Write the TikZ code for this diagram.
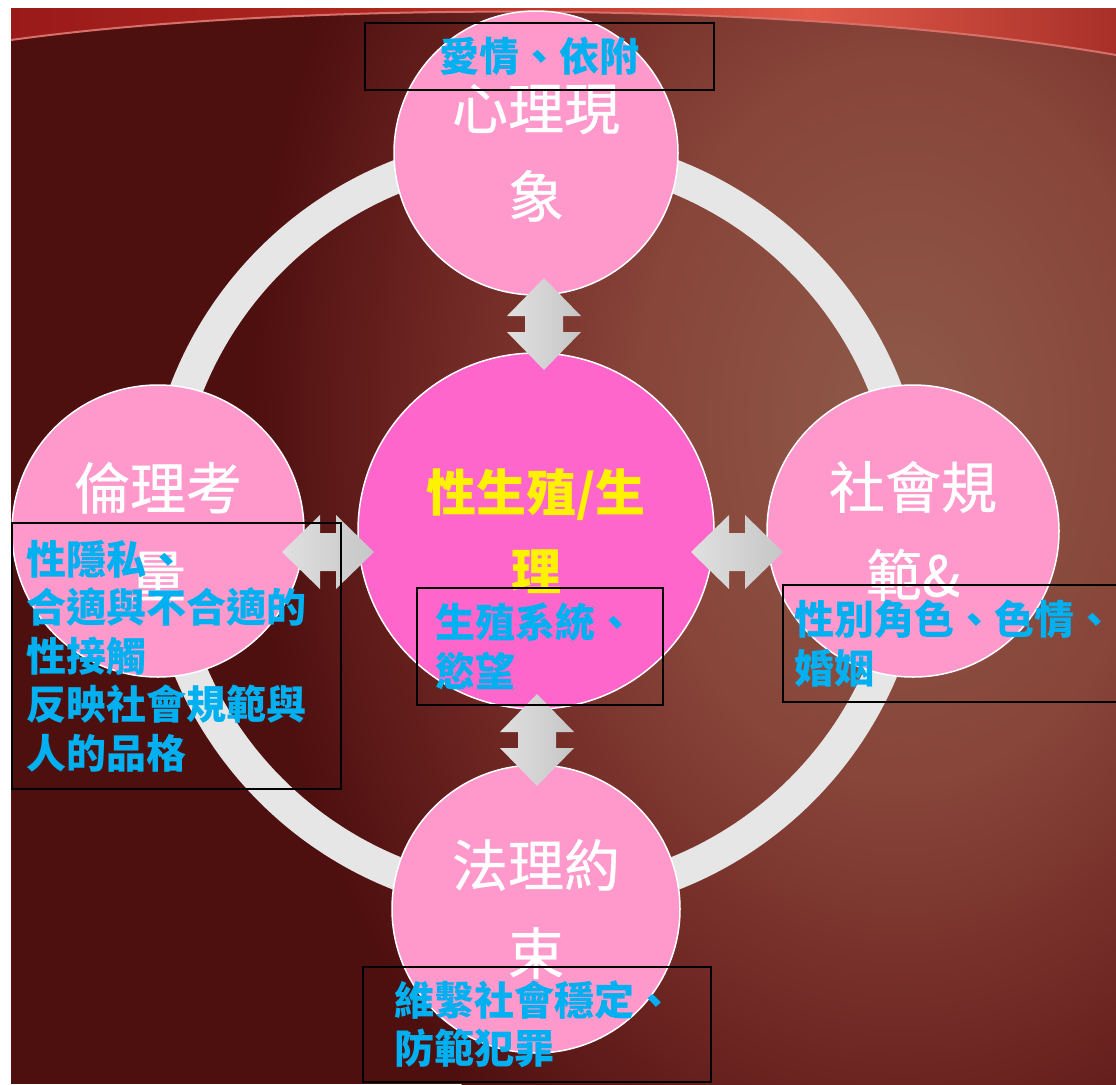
\documentclass[tikz,border=0pt]{standalone}
\usepackage{fontspec}
\newfontfamily\cjk{Noto Sans CJK TC}
\newfontfamily\cjkw[FakeBold=0.6]{Noto Sans CJK TC}
\definecolor{bgdark}{HTML}{4E0F0F}
\definecolor{glowA}{HTML}{8E5A4A}
\definecolor{glowB}{HTML}{88453A}
\definecolor{glowC}{HTML}{6E2622}
\definecolor{bandL}{HTML}{9A1A1A}
\definecolor{bandLL}{HTML}{B0281F}
\definecolor{bandM}{HTML}{E25A4A}
\definecolor{bandR}{HTML}{A83028}
\definecolor{bandline}{HTML}{D8706A}
\definecolor{pinkc}{HTML}{FF99CC}
\definecolor{corepink}{HTML}{FF66CC}
\definecolor{ringgray}{HTML}{E6E6E6}
\definecolor{arrowlight}{HTML}{E0E0E0}
\definecolor{arrowdark}{HTML}{C6C6C6}
\definecolor{txtblue}{HTML}{00B0F0}
\pgfdeclareradialshading{bgglow}{\pgfpoint{0bp}{0bp}}{color(0bp)=(glowA); color(10bp)=(glowB); color(18bp)=(glowC); color(25bp)=(bgdark); color(50bp)=(bgdark)}
\pgfdeclarehorizontalshading{bandshade}{100bp}{color(0bp)=(bandL); color(25bp)=(bandL); color(43bp)=(bandLL); color(61bp)=(bandM); color(75bp)=(bandR); color(100bp)=(bandR)}
\tikzset{
  satel/.style={circle, fill=pinkc, draw=white, line width=1.5pt, inner sep=0pt, text=white, align=center, font=\cjkw\fontsize{56}{88}\selectfont},
  corec/.style={circle, fill=corepink, draw=white, line width=1.5pt, inner sep=0pt, text=yellow, align=center, font=\cjk\bfseries\fontsize{50}{79}\selectfont},
  tbox/.style={draw=black, line width=1.6pt, inner ysep=0pt, text=txtblue, font=\cjk\bfseries\fontsize{40}{48.5}\selectfont},
  ringstyle/.style={draw=ringgray, line width=33pt},
  dblarrow/.pic={\shade[left color=arrowlight, right color=arrowdark] (0,-46) -- (37,-8) -- (19,-8) -- (19,8) -- (37,8) -- (0,46) -- (-37,8) -- (-19,8) -- (-19,-8) -- (-37,-8) -- cycle;}
}
\begin{document}
\begin{tikzpicture}[x=1pt,y=-1pt]
\useasboundingbox (0,0) rectangle (1116,1084);
\fill[white] (0,0) rectangle (1116,1084);
\begin{scope}
\clip (11,8) rectangle (1116,1084);
\fill[bgdark] (11,8) rectangle (1116,1084);
\shade[shading=bgglow] (900,420) ellipse [x radius=650, y radius=900];
\shade[shading=bandshade] (11,8) -- (11,40) .. controls (300,0) and (800,0) .. (1116,55) -- (1116,8) -- cycle;
\draw[bandline, line width=2pt] (11,40) .. controls (300,0) and (800,0) .. (1116,55);
\draw[ringstyle] (536,525) circle (375);
\node[satel, minimum size=284] (top) at (536,153) {心理現\\象};
\node[satel, minimum size=292] (left) at (158,531) {倫理考\\量};
\node[satel, minimum size=292] (right) at (913,531) {社會規\\範\&};
\node[satel, minimum size=288] (bottom) at (536,909) {法理約\\束};
\node[corec, minimum size=356] (core) at (536,531) {性生殖/生\\理};
\pic (aup) at (544,324) {dblarrow};
\pic (adown) at (537,740) {dblarrow};
\pic[rotate=90] (aleft) at (328,552) {dblarrow};
\pic[rotate=90] (aright) at (737,552) {dblarrow};
\node[tbox, minimum width=349, minimum height=67, align=center] (toptxt) at (539.5,56.5) {愛情、依附};
\node[tbox, inner xsep=14, text width=301, minimum height=266, align=left] (lefttxt) at (176.5,656) {性隱私、\\合適與不合適的\\性接觸\\反映社會規範與\\人的品格};
\node[tbox, inner xsep=18, text width=210, minimum height=117, align=left] (coretxt) at (540,646.5) {生殖系統、\\慾望};
\node[tbox, inner xsep=11, text width=328, minimum height=117, align=left] (righttxt) at (958,643.5) {性別角色、色情、\\婚姻};
\node[tbox, inner xsep=31, text width=286, minimum height=115, align=left] (bottxt) at (537,1024.5) {維繫社會穩定、\\防範犯罪};
\end{scope}
\end{tikzpicture}
\end{document}
